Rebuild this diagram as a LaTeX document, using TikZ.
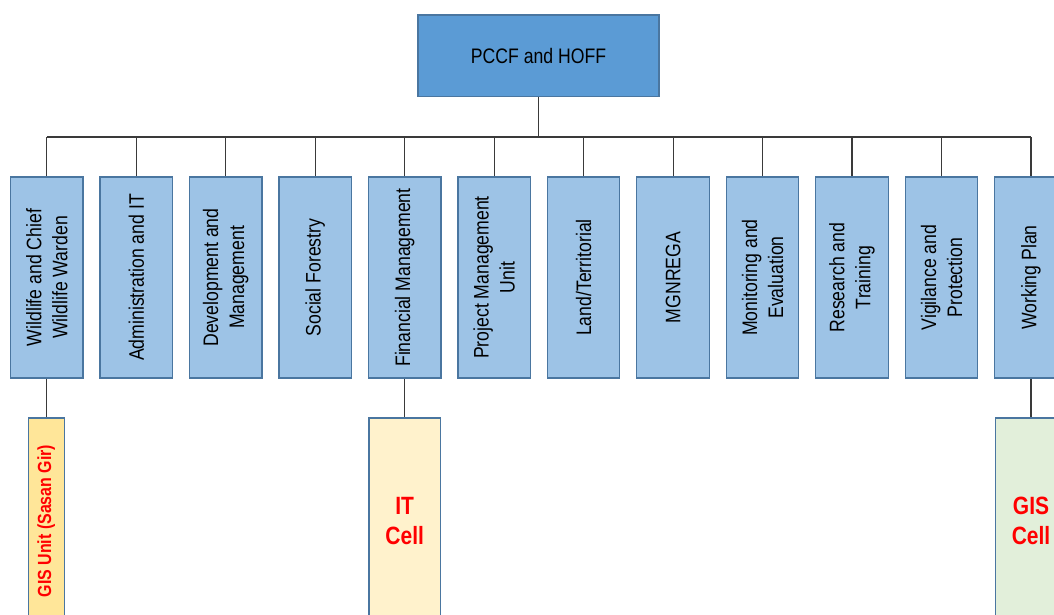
\documentclass[tikz,border=0pt]{standalone}
\usepackage{fontspec}
\setmainfont{Liberation Sans}[FakeStretch=0.84]
\definecolor{headfill}{HTML}{5B9BD5}
\definecolor{deptfill}{HTML}{9DC3E6}
\definecolor{boxline}{HTML}{4A76A0}
\definecolor{linkgray}{HTML}{3A3A3A}
\definecolor{orangefill}{HTML}{FFE699}
\definecolor{yellowfill}{HTML}{FFF2CC}
\definecolor{greenfill}{HTML}{E2EFDA}
\definecolor{alertred}{HTML}{FF0000}
\begin{document}
\begin{tikzpicture}[x=1pt,y=-1pt,
  box/.style={draw=boxline, line width=1.2pt, inner sep=0pt, align=center},
  head/.style={box, fill=headfill, minimum width=241pt, minimum height=81.5pt,
    font=\fontsize{21}{26}\selectfont},
  dept/.style={box, fill=deptfill, rotate=90, minimum width=201pt,
    minimum height=72.5pt, font=\fontsize{21}{26}\selectfont},
  cellbox/.style={box, minimum width=71.5pt, minimum height=206pt,
    text=alertred, font=\bfseries\fontsize{25}{30}\selectfont},
  link/.style={draw=linkgray, line width=1.1pt}]
\useasboundingbox (0,0) rectangle (1054,614);
\clip (0,0) rectangle (1054,614);

% head of the organisation
\node[head] (head) at (538.5,55.8) {PCCF and HOFF};

% departments
\foreach \i/\t in {
  1/{Wildlife and Chief\\Wildlife Warden},
  2/{Administration and IT},
  3/{Development and\\Management},
  4/{Social Forestry},
  5/{Financial Management},
  6/{Project Management\\Unit},
  7/{Land/Territorial},
  8/{MGNREGA},
  9/{Monitoring and\\Evaluation},
  10/{Research and\\Training},
  11/{Vigilance and\\Protection},
  12/{Working Plan}}
  \node[dept] (d\i) at ({46.8+89.47*(\i-1)},277.5) {\t};

% bus line joining the head to every department
\coordinate (bus) at (538.5,137);
\draw[link] (head.south) -- (bus);
\draw[link] (d1.east |- bus) -- (d12.east |- bus);
\foreach \i in {1,...,12}
  \draw[link] (d\i.east |- bus) -- (d\i.east);

% cells under departments
\node[box, fill=orangefill, rotate=90, minimum width=206pt, minimum height=36pt,
  text=alertred, font=\bfseries\fontsize{19}{23}\selectfont]
  (gisunit) at (46.3,521) {GIS Unit (Sasan Gir)};
\node[cellbox, fill=yellowfill] (itcell) at (404.7,521) {IT\\Cell};
\node[cellbox, fill=greenfill] (giscell) at (1031,521) {GIS\\Cell};

\draw[link] (d1.west) -- (d1.west |- gisunit.east);
\draw[link] (d5.west) -- (d5.west |- itcell.north);
\draw[link] (d12.west) -- (d12.west |- giscell.north);
\end{tikzpicture}
\end{document}
